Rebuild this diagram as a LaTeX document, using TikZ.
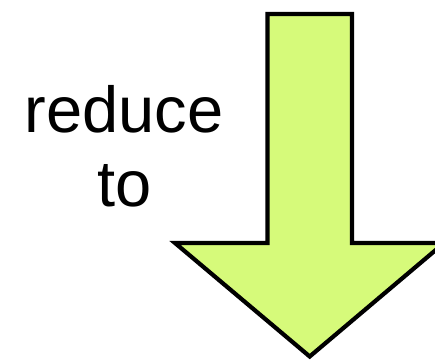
\documentclass[tikz,border=0pt]{standalone}
\usepackage{fontspec}
\setmainfont{Liberation Sans}
\definecolor{arrowgreen}{RGB}{214,250,122}
\begin{document}
\begin{tikzpicture}[x=1pt,y=1pt,
  bigarrow/.style={draw=black,line width=4.2pt,fill=arrowgreen,line join=miter},
  label/.style={inner sep=0pt,anchor=base,font=\fontsize{65}{75}\selectfont}]
\useasboundingbox (0,0) rectangle (435,363);
\draw[bigarrow] (267.5,349) -- (352,349) -- (352,120) -- (444,120) -- (309.7,6.5) -- (175,120) -- (267.5,120) -- cycle;
\node[label] (reduce) at (124,230) {reduce};
\node[label] (to) at (125,156) {to};
\end{tikzpicture}
\end{document}
